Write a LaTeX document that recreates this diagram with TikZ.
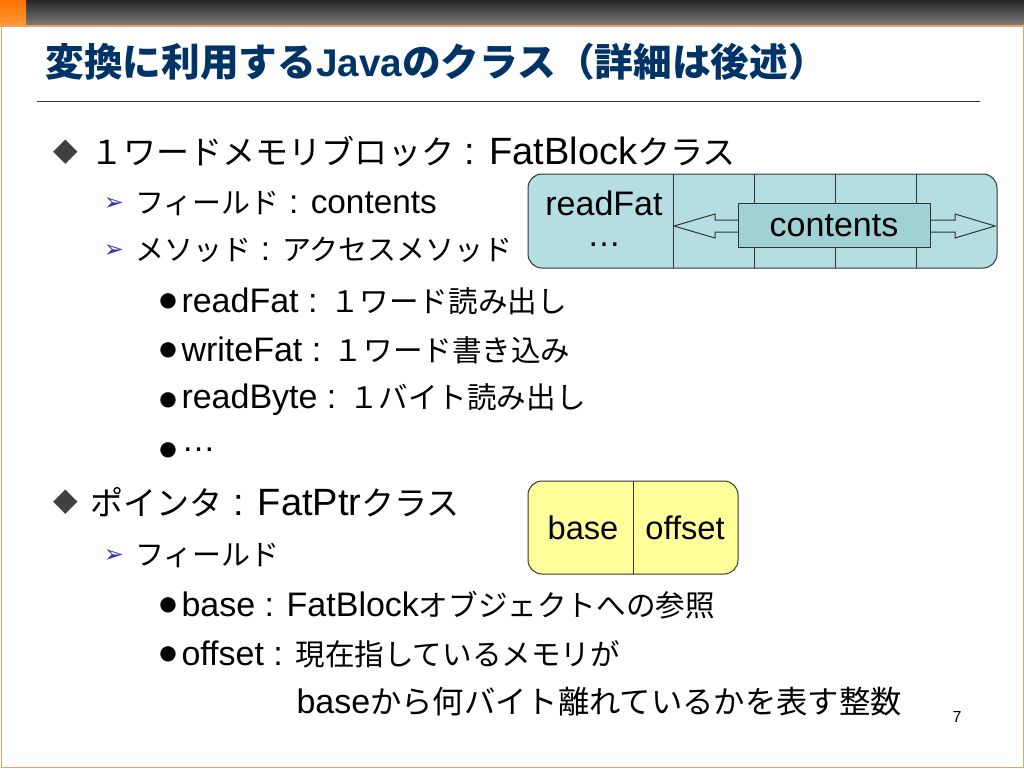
\documentclass[tikz,border=0pt]{standalone}
\usepackage{fontspec}
\setmainfont{Liberation Sans}
\newfontfamily\jpfont[Scale=0.87]{Noto Sans CJK JP}
\newfontfamily\jpboldfont{Noto Sans CJK JP Bold}
\newfontfamily\symfont{DejaVu Sans}
\newcommand{\jp}[1]{{\jpfont #1}}
\usetikzlibrary{positioning}
\definecolor{titleblue}{RGB}{0,51,102}
\definecolor{cellteal}{RGB}{181,222,226}
\definecolor{boxteal}{RGB}{159,209,213}
\definecolor{ptryellow}{RGB}{255,255,153}
\definecolor{rimorange}{RGB}{240,160,96}
\definecolor{markblue}{RGB}{51,51,170}
\tikzset{
  lvla/.style={anchor=west, inner sep=0pt, font=\fontsize{28.5}{34}\selectfont},
  lvlb/.style={anchor=west, inner sep=0pt, font=\fontsize{25}{30}\selectfont},
  lvlc/.style={anchor=west, inner sep=0pt, font=\fontsize{25.5}{30}\selectfont},
  marka/.style={inner sep=0pt, text=black!75, font=\symfont\fontsize{24}{28}\selectfont},
  markb/.style={inner sep=0pt, text=markblue, font=\symfont\fontsize{18}{20}\selectfont},
  markc/.style={inner sep=0pt, font=\symfont\fontsize{15}{18}\selectfont},
  celltext/.style={inner sep=0pt, font=\fontsize{25.5}{30}\selectfont}
}
\begin{document}
\begin{tikzpicture}[x=0.75pt, y=-0.75pt, line width=0.75pt]
		\useasboundingbox (0,0) rectangle (1024,768);
		% slide frame
		\fill[white] (0,0) rectangle (1024,768);
		\shade[top color=black!85, bottom color=black!52] (0,0) rectangle (1024,25);
		\shade[top color=orange!90!red, bottom color=orange!80] (0,0) rectangle (26,25);
		\draw[rimorange, line width=1.5pt] (0,25.5) -- (1024,25.5);
		\draw[rimorange] (1,25) -- (1,767) -- (1023,767) -- (1023,25);
		% title
		\node(title)[anchor=west, inner sep=0pt, text=titleblue, font=\bfseries\fontsize{29}{34}\selectfont] at (45,62)
			{{\jpboldfont 変換に利用する}Java{\jpboldfont のクラス（詳細は後述）}};
		\draw[black!80] (37,101) -- (980,101);
		% bullets
		\node(m1)[marka] at (66,152){◆};
		\node(b1)[lvla] at (90,152){\jp{１ワードメモリブロック} : FatBlock\jp{クラス}};
		\node(m2)[markb] at (114,204){➢};
		\node(b2)[lvlb] at (135,203){\jp{フィールド} : contents};
		\node(m3)[markb] at (114,251){➢};
		\node(b3)[lvlb] at (135,250){\jp{メソッド} : \jp{アクセスメソッド}};
		\node(m4)[markc] at (168,301){●};
		\node(b4)[lvlc] at (181,301){readFat : \jp{１ワード読み出し}};
		\node(m5)[markc] at (168,350){●};
		\node(b5)[lvlc] at (181,350){writeFat : \jp{１ワード書き込み}};
		\node(m6)[markc] at (168,400){●};
		\node(b6)[lvlc] at (181,400){readByte : \jp{１バイト読み出し}};
		\node(m7)[markc] at (168,450){●};
		\node(b7)[lvlc] at (181,450){…};
		\node(m8)[marka] at (66,502){◆};
		\node(b8)[lvla] at (90,502){\jp{ポインタ} : FatPtr\jp{クラス}};
		\node(m9)[markb] at (114,556){➢};
		\node(b9)[lvlb] at (135,555){\jp{フィールド}};
		\node(m10)[markc] at (168,605){●};
		\node(b10)[lvlc] at (181,605){base : FatBlock\jp{オブジェクトへの参照}};
		\node(m11)[markc] at (168,654){●};
		\node(b11)[lvlc] at (181,654){offset : \jp{現在指しているメモリが}};
		\node(b12)[lvlc] at (296,702){base{\jpfont\fontsize{27}{30}\selectfont から何バイト離れているかを表す整数}};
		\node(page)[inner sep=0pt, font=\fontsize{12}{14}\selectfont] at (957,717){7};
		% FatBlock picture
		\draw[black!80, fill=cellteal, rounded corners=10.5pt] (528,174) rectangle (997,268);
		\foreach \x in {673,754,835,916}
			\draw[black!80] (\x,174) -- (\x,268);
		\node(rdfat)[celltext] at (604,203){readFat};
		\node(dots)[celltext] at (604,245){…};
		\draw[black!80, fill=cellteal] (674,226) -- (715,214) -- (715,220) -- (955,220) -- (955,214)
			-- (995,226) -- (955,238) -- (955,232) -- (715,232) -- (715,238) -- cycle;
		\draw[black!80, fill=boxteal] (738,203) rectangle (930,247);
		\node(cont)[celltext] at (834,226){contents};
		% FatPtr picture
		\draw[black!80, fill=ptryellow, rounded corners=10.5pt] (528,481) rectangle (738,574);
		\draw[black!80] (633,481) -- (633,574);
		\node(base)[celltext, font=\fontsize{24.5}{28}\selectfont] at (583,528){base};
		\node(offs)[celltext, font=\fontsize{24.5}{28}\selectfont] at (685,528){offset};
	\end{tikzpicture}
\end{document}
